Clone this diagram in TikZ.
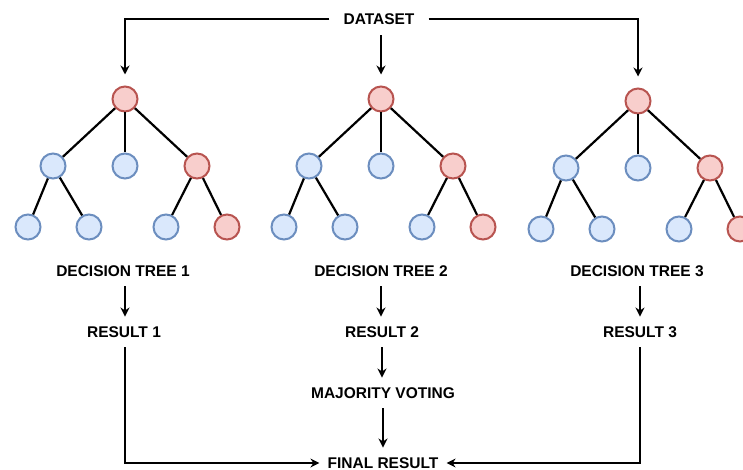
\documentclass[tikz,border=0pt]{standalone}
\usepackage{fontspec}
\setmainfont{Liberation Sans}
\usetikzlibrary{arrows.meta,calc}
\definecolor{bfill}{HTML}{DAE8FC}
\definecolor{bdraw}{HTML}{6C8EBF}
\definecolor{rfill}{HTML}{F8CECC}
\definecolor{rdraw}{HTML}{B85450}
\tikzset{
  bnode/.style={circle,draw=bdraw,fill=bfill,line width=2pt,minimum size=25pt,inner sep=0pt},
  rnode/.style={circle,draw=rdraw,fill=rfill,line width=2pt,minimum size=25pt,inner sep=0pt},
  edge/.style={line width=2.2pt,black},
  arr/.style={line width=2.2pt,black,-{Stealth[length=9pt,width=9pt]}},
  lbl/.style={font=\bfseries\fontsize{15.5}{17}\selectfont,text height=10.5pt,text depth=0pt,inner ysep=10pt,inner xsep=8pt},
}
\newcommand{\mytree}[3]{%
  \begin{scope}[shift={(#1,#2)}]
    \node[rnode] (#3r) at (125,99) {};
    \node[bnode] (#3a) at (53,166) {};
    \node[bnode] (#3b) at (125,166) {};
    \node[rnode] (#3c) at (197,166) {};
    \node[bnode] (#3d) at (28,227) {};
    \node[bnode] (#3e) at (89,227) {};
    \node[bnode] (#3f) at (166,227) {};
    \node[rnode] (#3g) at (227,227) {};
    \draw[edge] (#3r) -- (#3a);
    \draw[edge] (#3r) -- (#3b);
    \draw[edge] (#3r) -- (#3c);
    \draw[edge] (#3a) -- (#3d);
    \draw[edge] (#3a) -- (#3e);
    \draw[edge] (#3c) -- (#3f);
    \draw[edge] (#3c) -- (#3g);
  \end{scope}}
\begin{document}
\begin{tikzpicture}[x=1pt,y=-1pt]
\useasboundingbox (0,0) rectangle (743,470);
\clip (0,0) rectangle (743,470);
\mytree{0}{0}{ta}
\mytree{256}{0}{tb}
\mytree{513}{2}{tc}
\node[lbl,inner xsep=14pt] (ds) at (379,19) {DATASET};
\node[lbl] (dt1) at (123,271) {DECISION TREE 1};
\node[lbl] (dt2) at (381,271) {DECISION TREE 2};
\node[lbl] (dt3) at (637,271) {DECISION TREE 3};
\node[lbl] (rs1) at (124,332) {RESULT 1};
\node[lbl] (rs2) at (382,332) {RESULT 2};
\node[lbl] (rs3) at (640,332) {RESULT 3};
\node[lbl] (mv) at (383,393) {MAJORITY VOTING};
\node[lbl] (fr) at (383,463) {FINAL RESULT};
\draw[arr] (ds.west) -| ([yshift=11pt]tar.north);
\draw[arr] (ds.east) -| ([yshift=11pt]tcr.north);
\draw[arr] ([yshift=-1pt]ds.south -| tbr.north) -- ([yshift=11pt]tbr.north);
\draw[arr] (dt1.south -| tar) -- (rs1.north -| tar);
\draw[arr] (dt2.south -| tbr) -- (rs2.north -| tbr);
\draw[arr] (dt3.south -| rs3) -- (rs3.north);
\draw[arr] (rs2.south) -- (rs2.south |- mv.north);
\draw[arr] (mv.south) -- (mv.south |- fr.north);
\draw[arr] (rs1.south -| tar) |- (fr.west);
\draw[arr] (rs3.south) |- (fr.east);
\end{tikzpicture}
\end{document}
